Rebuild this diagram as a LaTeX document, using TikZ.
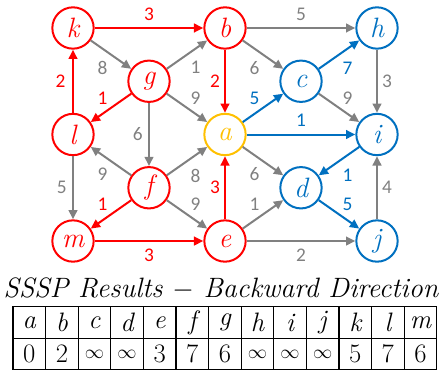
\documentclass[tikz,border=0pt]{standalone}
\usepackage{amsmath}
\usepackage{fontspec}
\usepackage{tikz}
\usetikzlibrary{arrows.meta,positioning}

\newfontfamily\wtfont{Carlito}
\definecolor{tred}{RGB}{255,0,0}
\definecolor{tblue}{RGB}{0,112,192}
\definecolor{tgold}{RGB}{255,192,0}
\definecolor{tgray}{RGB}{128,128,128}

\begin{document}
\begin{tikzpicture}[x=57pt, y=-39.94pt]
    \tikzstyle{vtx} = [circle, draw, line width=1.5pt, minimum size=31pt, inner sep=0pt, font=\fontsize{21}{21}\selectfont\itshape]
    \tikzstyle{edg} = [line width=1.5pt, -{Triangle[length=7pt, width=6.5pt]}]
    \tikzstyle{redge} = [edg, color=tred]
    \tikzstyle{bedge} = [edg, color=tblue]
    \tikzstyle{gedge} = [edg, color=tgray]
    \tikzstyle{wt} = [inner sep=2pt, font=\wtfont\fontsize{14.5}{14.5}\selectfont]
    \tikzstyle{cell} = [rectangle, draw, line width=0.9pt, minimum width=24.45pt, minimum height=23.6pt, inner sep=0pt, font=\fontsize{20}{20}\selectfont]

    \useasboundingbox (-0.9605,-0.5258) rectangle (4.8158,6.4601);

    % Vertices
    \node[vtx, tred] (k) at (0,0) {k};
    \node[vtx, tred] (b) at (2,0) {b};
    \node[vtx, tblue] (h) at (4,0) {h};
    \node[vtx, tred] (g) at (1,1) {g};
    \node[vtx, tblue] (c) at (3,1) {c};
    \node[vtx, tred] (l) at (0,2) {l};
    \node[vtx, tgold] (a) at (2,2) {a};
    \node[vtx, tblue] (i) at (4,2) {i};
    \node[vtx, tred] (f) at (1,3) {f};
    \node[vtx, tblue] (d) at (3,3) {d};
    \node[vtx, tred] (m) at (0,4) {m};
    \node[vtx, tred] (e) at (2,4) {e};
    \node[vtx, tblue] (j) at (4,4) {j};

    % Shortest path tree towards a
    \draw[redge] (k) -- node[wt, above=3pt] {3} (b);
    \draw[redge] (b) -- node[wt, left=1pt] {2} (a);
    \draw[redge] (l) -- node[wt, left=3pt] {2} (k);
    \draw[redge] (g) -- node[wt, above left=0pt] {1} (l);
    \draw[redge] (f) -- node[wt, above left=0pt] {1} (m);
    \draw[redge] (m) -- node[wt, below=3pt] {3} (e);
    \draw[redge] (e) -- node[wt, left=1pt] {3} (a);

    % Edges leaving a
    \draw[bedge] (a) -- node[wt, above left=0pt] {5} (c);
    \draw[bedge] (a) -- node[wt, above=3pt] {1} (i);
    \draw[bedge] (c) -- node[wt, below right=3pt and 0pt] {7} (h);
    \draw[bedge] (i) -- node[wt, below right=3pt and 0pt] {1} (d);
    \draw[bedge] (d) -- node[wt, above right=0pt] {5} (j);

    % Remaining edges
    \draw[gedge] (k) -- node[wt, below left=2pt and 0pt] {8} (g);
    \draw[gedge] (g) -- node[wt, below right=2pt and 0pt] {1} (b);
    \draw[gedge] (b) -- node[wt, above=3pt] {5} (h);
    \draw[gedge] (b) -- node[wt, below left=2pt and 0pt] {6} (c);
    \draw[gedge] (g) -- node[wt, above right=0pt] {9} (a);
    \draw[gedge] (c) -- node[wt, above right=0pt] {9} (i);
    \draw[gedge] (h) -- node[wt, right=1pt] {3} (i);
    \draw[gedge] (g) -- node[wt, left=2pt] {6} (f);
    \draw[gedge] (f) -- node[wt, below left=2pt and 0pt] {9} (l);
    \draw[gedge] (f) -- node[wt, below right=3pt and 0pt] {8} (a);
    \draw[gedge] (f) -- node[wt, above right=0pt] {9} (e);
    \draw[gedge] (l) -- node[wt, left=2pt] {5} (m);
    \draw[gedge] (e) -- node[wt, above left=0pt] {1} (d);
    \draw[gedge] (e) -- node[wt, below=3pt] {2} (j);
    \draw[gedge] (j) -- node[wt, right=1pt] {4} (i);
    \draw[gedge] (a) -- node[wt, below left=2pt and 0pt] {6} (d);

    % Results table
    \node[anchor=base, font=\fontsize{21}{21}\selectfont\itshape] (title) at (1.947,5.052) {SSSP Results $-$ Backward Direction};
    \foreach \v/\dist [count=\n] in {a/0, b/2, c/{\fontsize{15}{15}\selectfont$\infty$}, d/{\fontsize{15}{15}\selectfont$\infty$}, e/3, f/7, g/6, h/{\fontsize{15}{15}\selectfont$\infty$}, i/{\fontsize{15}{15}\selectfont$\infty$}, j/{\fontsize{15}{15}\selectfont$\infty$}, k/5, l/7, m/6} {
        \node[cell] (top\n) at ({-0.575+0.4289*(\n-1)}, 5.531) {\itshape\v};
        \node[cell] (bot\n) at ({-0.575+0.4289*(\n-1)}, 6.1225) {\dist};
    }

\end{tikzpicture}
\end{document}
